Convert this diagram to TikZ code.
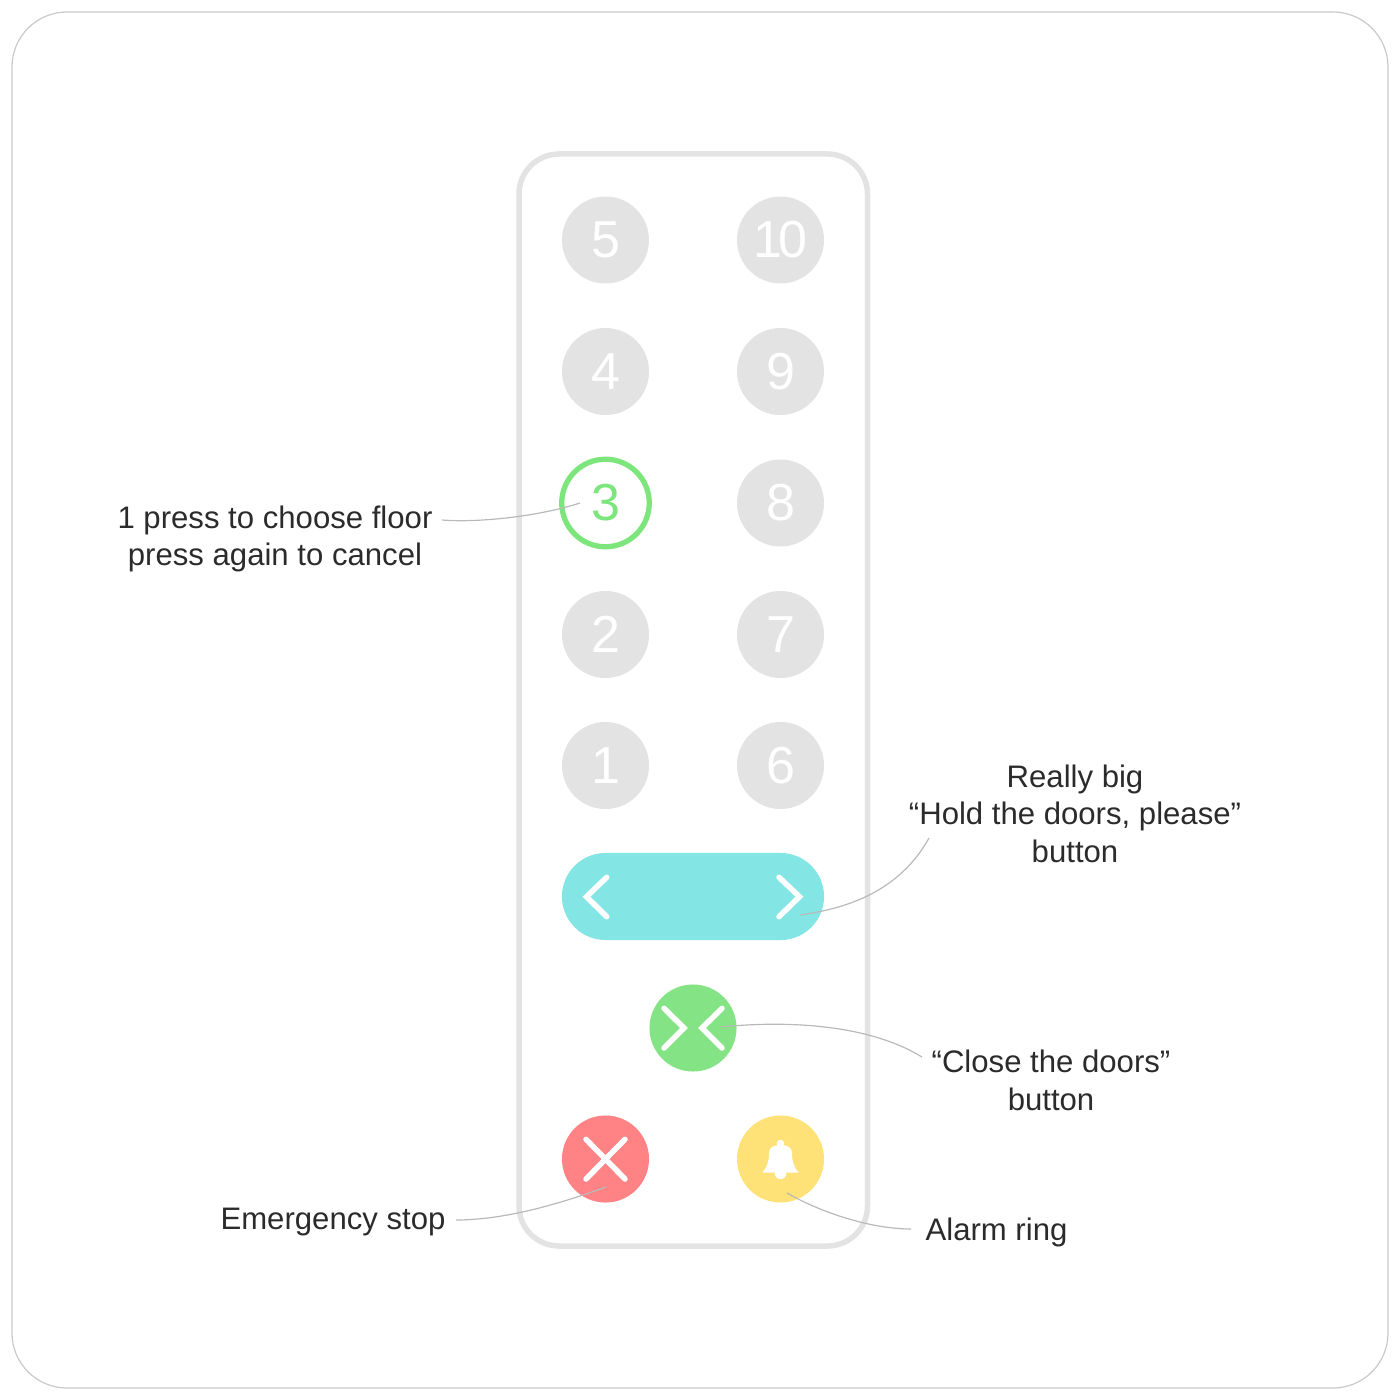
\documentclass[tikz,border=0pt]{standalone}
\usepackage{xcolor}
\usepackage{fontspec}
\setmainfont{Liberation Sans}
\definecolor{keygray}{HTML}{E3E3E3}
\definecolor{framegray}{HTML}{C9C9C9}
\definecolor{leadergray}{HTML}{B9B9B9}
\definecolor{holdteal}{HTML}{83E5E4}
\definecolor{closegreen}{HTML}{84E384}
\definecolor{floorgreen}{HTML}{7CE67C}
\definecolor{stopred}{HTML}{FF8385}
\definecolor{alarmyellow}{HTML}{FFE277}
\definecolor{inkgray}{HTML}{2B2B2B}
\tikzset{
	floorkey/.style={circle,fill=keygray,minimum size=0.87cm,inner sep=0pt,text=white,font=\fontsize{14.8pt}{16pt}\selectfont},
	roundkey/.style={circle,minimum size=0.87cm,inner sep=0pt},
	caption/.style={align=center,inner sep=0pt,text=inkgray,font=\fontsize{8.85pt}{10.65pt}\selectfont},
	leader/.style={draw=leadergray,line width=0.012cm},
	glyph/.style={draw=white,line width=0.055cm,line cap=round,line join=miter}
}
\begin{document}
\begin{tikzpicture}[x=0.01cm,y=-0.01cm]
	\useasboundingbox (0,0) rectangle (1400,1400);
	\draw[framegray,line width=0.012cm,rounded corners=0.55cm] (12,12) rectangle (1388,1388);
	\draw[keygray,line width=0.055cm,rounded corners=0.4cm] (519,154) rectangle (867.5,1246);
	% floor keys
	\node[floorkey] (key5) at (605.5,240) {5};
	\node[floorkey] (key4) at (605.5,371.5) {4};
	\node[roundkey,draw=floorgreen,line width=0.053cm,text=floorgreen,minimum size=0.875cm,font=\fontsize{14.8pt}{16pt}\selectfont] (key3) at (605.5,503) {3};
	\node[floorkey] (key2) at (605.5,634.5) {2};
	\node[floorkey] (key1) at (605.5,765.5) {1};
	\node[floorkey] (key10) at (780.5,240) {1\kern-1pt 0};
	\node[floorkey] (key9) at (780.5,371.5) {9};
	\node[floorkey] (key8) at (780.5,503) {8};
	\node[floorkey] (key7) at (780.5,634.5) {7};
	\node[floorkey] (key6) at (780.5,765.5) {6};
	% door keys
	\node[fill=holdteal,minimum width=2.62cm,minimum height=0.87cm,inner sep=0pt,rounded corners=0.435cm] (holdkey) at (693,896.5) {};
	\draw[glyph] (606.7,877.3) -- (586.5,896.7) -- (606.7,916.7);
	\draw[glyph] (779,877.3) -- (799.5,896.7) -- (779,916.7);
	\node[roundkey,fill=closegreen] (closekey) at (693,1028) {};
	\draw[glyph] (664,1008.3) -- (684,1028) -- (664,1048);
	\draw[glyph] (722,1008.3) -- (702,1028) -- (722,1048);
	% stop and alarm
	\node[roundkey,fill=stopred] (stopkey) at (605.5,1159) {};
	\draw[glyph] (586,1139.3) -- (625,1179);
	\draw[glyph] (625,1139.3) -- (586,1179);
	\node[roundkey,fill=alarmyellow] (alarmkey) at (780.5,1159) {};
	\fill[white] (762.5,1172.5) .. controls (768,1166) and (769,1160) .. (769,1153) .. controls (769,1147) and (774,1145) .. (780.5,1145) .. controls (787,1145) and (792,1147) .. (792,1153) .. controls (792,1160) and (793,1166) .. (798.5,1172.5) -- cycle;
	\fill[white] (780.5,1143.5) circle (3.8);
	\fill[white] (780.5,1173.5) circle (5.7);
	% captions
	\node[caption] (floorlabel) at (275,539) {1 press to choose floor\\press again to cancel};
	\node[caption] (holdlabel) at (1075,813.5) {Really big\\“Hold the doors, please”\\button};
	\node[caption] (closelabel) at (1051,1080.5) {“Close the doors”\\button};
	\node[caption] (stoplabel) at (333,1222) {Emergency stop};
	\node[caption] (alarmlabel) at (996.5,1232) {Alarm ring};
	% leaders
	\coordinate (floorfrom) at (442,520);
	\coordinate (floorto) at (580,503);
	\coordinate (holdfrom) at (929,838);
	\coordinate (holdto) at (800,915);
	\coordinate (closefrom) at (922,1057);
	\coordinate (closeto) at (721,1027);
	\coordinate (stopfrom) at (456,1220);
	\coordinate (stopto) at (606,1187);
	\coordinate (alarmfrom) at (911,1229);
	\coordinate (alarmto) at (787,1193);
	\draw[leader] (floorfrom) .. controls (480,523) and (540,516) .. (floorto);
	\draw[leader] (holdfrom) .. controls (900,890) and (850,908) .. (holdto);
	\draw[leader] (closefrom) .. controls (870,1025) and (790,1020) .. (closeto);
	\draw[leader] (stopfrom) .. controls (510,1220) and (570,1200) .. (stopto);
	\draw[leader] (alarmfrom) .. controls (870,1229) and (820,1212) .. (alarmto);
\end{tikzpicture}
\end{document}
